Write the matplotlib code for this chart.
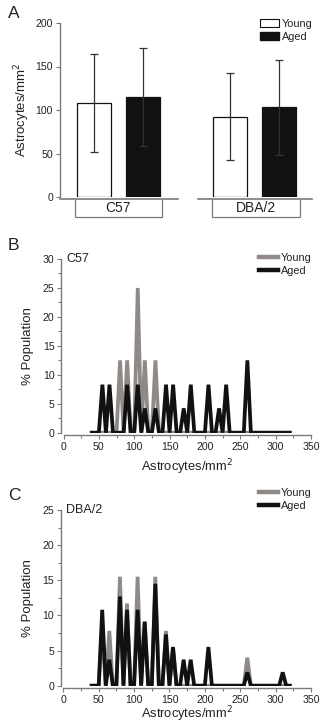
import numpy as np
import matplotlib.pyplot as plt
from matplotlib.patches import Patch
from matplotlib.lines import Line2D
from matplotlib.ticker import MultipleLocator

plt.rcParams['font.family'] = ['Liberation Sans', 'DejaVu Sans']

# ---- data: panel A (mean +- SD) ----
groups = ["C57", "DBA/2"]
young_mean = [108, 92]
young_sd = [56, 50]
aged_mean = [115, 103]
aged_sd = [56, 55]

# ---- data: histograms (bins of 5 astrocytes/mm2, 40..320) ----
bins = np.arange(40, 325, 5)

c57_young = {80: 12.5, 90: 12.5, 105: 25.0, 115: 12.5, 130: 12.5}
c57_aged = {55: 8.3, 65: 8.3, 90: 8.3, 105: 8.3, 115: 4.2, 130: 4.2,
            145: 8.3, 155: 8.3, 170: 4.2, 180: 8.3, 205: 8.3, 220: 4.2,
            230: 8.3, 260: 12.5}
dba_young = {55: 7.8, 65: 7.8, 80: 15.5, 90: 11.7, 105: 15.5, 115: 9.1,
             130: 15.5, 145: 7.8, 155: 5.5, 260: 4.0}
dba_aged = {55: 10.8, 65: 3.7, 80: 12.7, 90: 10.8, 105: 10.8, 115: 9.1,
            130: 14.5, 145: 7.3, 155: 5.5, 170: 3.7, 180: 3.7, 205: 5.5,
            260: 1.9, 310: 1.9}


def to_series(d):
    return np.array([d.get(int(b), 0.0) for b in bins])


W, H = 320, 724
fig = plt.figure(figsize=(W / 100, H / 100), dpi=100)
fig.patch.set_facecolor("white")


def px_axes(left, top, right, bottom):
    return fig.add_axes([left / W, 1 - bottom / H, (right - left) / W, (bottom - top) / H])


AXC = "#7a7a7a"
TXT = "#222222"
GRAY = "#8f8a86"
BLACK = "#111111"


def style_axes(ax):
    for s in ("top", "right"):
        ax.spines[s].set_visible(False)
    for s in ("left", "bottom"):
        ax.spines[s].set_color(AXC)
        ax.spines[s].set_linewidth(1.0)
    ax.tick_params(which="both", colors=AXC, labelcolor=TXT, labelsize=7.6, width=0.8)
    ax.tick_params(which="major", length=3, pad=2)
    ax.tick_params(which="minor", length=2)


# ---------------- Panel A ----------------
axA = px_axes(60, 23, 312, 197)
style_axes(axA)
axA.spines["bottom"].set_visible(False)
pos_young = np.array([0.0, 2.78])
pos_aged = pos_young + 1.0
bw = 0.69
axA.bar(pos_young, young_mean, width=bw, color="white", edgecolor=BLACK, linewidth=0.9, zorder=2)
axA.bar(pos_aged, aged_mean, width=bw, color=BLACK, edgecolor=BLACK, linewidth=0.9, zorder=2)
axA.errorbar(pos_young, young_mean, yerr=young_sd, fmt="none", ecolor="#333333",
             elinewidth=0.9, capsize=3, capthick=0.9, zorder=3)
axA.errorbar(pos_aged, aged_mean, yerr=aged_sd, fmt="none", ecolor="#333333",
             elinewidth=0.9, capsize=3, capthick=0.9, zorder=3)
axA.set_xlim(-0.69, 4.45)
axA.set_ylim(0, 200)
axA.set_yticks([0, 50, 100, 150, 200])
axA.set_xticks([])
axA.set_ylabel("Astrocytes/mm$^2$", fontsize=9.5, color=TXT, labelpad=2.5)

tr = axA.get_xaxis_transform()
# broken baseline
for x0, x1 in [(-0.69, 1.71), (2.12, 4.45)]:
    axA.plot([x0, x1], [-0.012, -0.012], color=AXC, lw=1.2, transform=tr, clip_on=False)
# group brackets
for (x0, x1), name in zip([(-0.39, 1.39), (2.41, 4.2)], groups):
    axA.plot([x0, x0, x1, x1], [-0.02, -0.115, -0.115, -0.02], color=AXC, lw=0.9,
             transform=tr, clip_on=False)
    axA.text((x0 + x1) / 2, -0.066, name, transform=tr, ha="center", va="center",
             fontsize=10, color=TXT)

legA = axA.legend(handles=[Patch(facecolor="white", edgecolor=BLACK, linewidth=0.8, label="Young"),
                           Patch(facecolor=BLACK, edgecolor=BLACK, label="Aged")],
                  loc="upper right", bbox_to_anchor=(1.02, 1.05), frameon=False, fontsize=7.8,
                  handlelength=1.7, handleheight=0.7, handletextpad=0.3, labelspacing=0.3,
                  borderaxespad=0)
for t in legA.get_texts():
    t.set_color(TXT)

fig.text(8 / W, 1 - 14 / H, "A", fontsize=12.5, color=TXT, va="center", ha="left")


# ---------------- Panels B & C ----------------
def hist_panel(box, young, aged, ymax, title, label, label_y, leg_anchor, xlabelpad):
    ax = px_axes(*box)
    style_axes(ax)
    ax.spines["left"].set_position(("outward", 1.5))
    ax.spines["bottom"].set_position(("outward", 1.5))
    ax.plot(bins, to_series(young), color=GRAY, lw=2.7, solid_joinstyle="miter", zorder=2)
    ax.plot(bins, to_series(aged), color=BLACK, lw=2.7, solid_joinstyle="miter", zorder=3)
    ax.set_xlim(0, 350)
    ax.set_ylim(0, ymax)
    ax.set_xticks(np.arange(0, 351, 50))
    ax.set_yticks(np.arange(0, ymax + 1, 5))
    ax.xaxis.set_minor_locator(MultipleLocator(25))
    ax.yaxis.set_minor_locator(MultipleLocator(2.5))
    ax.set_xlabel("Astrocytes/mm$^2$", fontsize=9.3, color=TXT, labelpad=xlabelpad)
    ax.set_ylabel("% Population", fontsize=9.5, color=TXT, labelpad=6)
    ax.text(4, ymax, title, fontsize=9, color=TXT, ha="left", va="center")
    leg = ax.legend(handles=[Line2D([], [], color=GRAY, lw=3.2, label="Young"),
                             Line2D([], [], color=BLACK, lw=3.2, label="Aged")],
                    loc="upper right", bbox_to_anchor=leg_anchor, frameon=False, fontsize=7.8,
                    handlelength=1.7, handletextpad=0.3, labelspacing=0.3, borderaxespad=0)
    for t in leg.get_texts():
        t.set_color(TXT)
    fig.text(8 / W, 1 - label_y / H, label, fontsize=12.5, color=TXT, va="center", ha="left")
    return ax


hist_panel((63.5, 259, 311, 432.7), c57_young, c57_aged, 30, "C57", "B", 245, (1.02, 1.06), 4)
hist_panel((63.3, 510, 311, 685.7), dba_young, dba_aged, 25, "DBA/2", "C", 495, (1.02, 1.15), -0.5)

fig.savefig("out.png", dpi=100)
